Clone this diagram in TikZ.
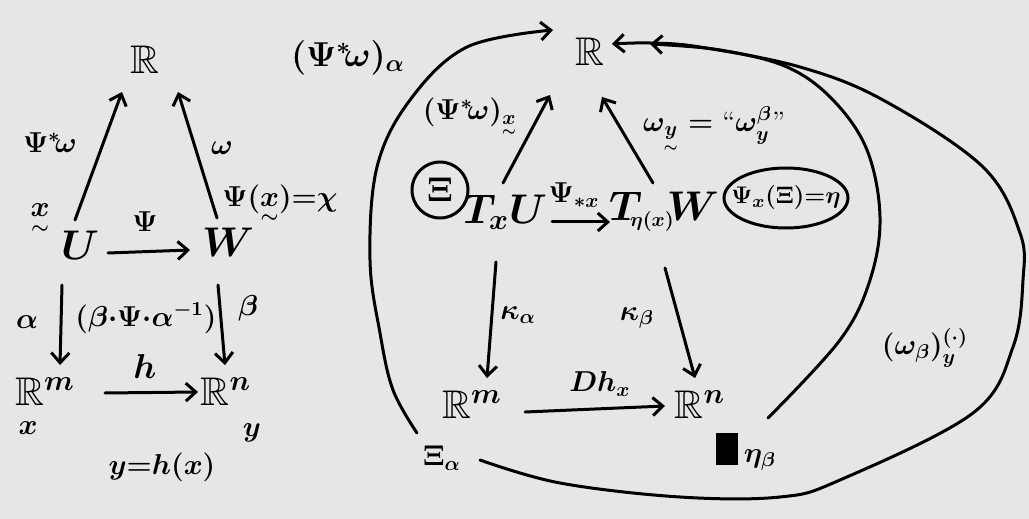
\documentclass[tikz,border=0pt]{standalone}
\usepackage{amsmath,amssymb}
\usetikzlibrary{arrows.meta,shapes.geometric,calc}
\definecolor{paper}{RGB}{230,230,228}
\newcommand{\ulx}{\underset{\sim}{x}}
\newcommand{\uly}{\underset{\sim}{y}}
\begin{document}
\begin{tikzpicture}[x=0.5pt,y=-0.5pt,line width=1.5pt,
  arr/.style={-{Straight Barb[length=5pt,width=9pt]},line cap=round},
  obj/.style={font=\fontsize{20}{22}\selectfont\boldmath,inner sep=1pt},
  lab/.style={font=\fontsize{14}{16}\selectfont\boldmath,inner sep=1pt},
  big/.style={font=\fontsize{18}{20}\selectfont\boldmath,inner sep=1pt}]
\fill[paper] (0,0) rectangle (1029,519);
\useasboundingbox (0,0) rectangle (1029,519);

% ---------- left diagram ----------
\node[obj] (lR)  at (145,60)  {$\mathbb{R}$};
\node[obj] (U)   at (80,245)  {$U$};
\node[obj] (W)   at (228,242) {$W$};
\node[obj] (lRm) at (45,392)  {$\mathbb{R}^m$};
\node[obj] (lRn) at (226,392) {$\mathbb{R}^n$};

\draw[arr] ($(U)+(-5,-25)$) -- ($(lR)+(-23,32)$);
\draw[arr] ($(W)+(-11,-24)$) -- ($(lR)+(33,32)$);
\draw[arr] ($(U)+(28,8)$) -- ($(W)+(-38,8)$);
\draw[arr] ($(U)+(-18,40)$) -- ($(lRm)+(15,-27)$);
\draw[arr] ($(W)+(-10,43)$) -- ($(lRn)+(-1,-27)$);
\draw[arr] ($(lRm)+(60,1)$) -- ($(lRn)+(-28,0)$);

\node[lab] (l1) at (50,143)  {$\Psi^{*}\!\omega$};
\node[lab] (l2) at (222,148) {$\omega$};
\node[lab] (l3) at (40,220)  {$\ulx$};
\node[lab] (l4) at (280,205) {$\Psi(\ulx){=}\chi$};
\node[lab] (l5) at (145,222) {$\Psi$};
\node[lab] (l6) at (27,322)  {$\alpha$};
\node[lab] (l7) at (248,308) {$\beta$};
\node[lab] (l8) at (146,318) {$(\beta{\cdot}\Psi{\cdot}\alpha^{-1})$};
\node[big] (l9) at (145,366) {$h$};
\node[lab] (l10) at (28,428) {$x$};
\node[lab] (l11) at (252,433) {$y$};
\node[lab] (l12) at (162,467) {$y{=}h(x)$};

% ---------- right diagram ----------
\node[obj] (rR)  at (590,52)  {$\mathbb{R}$};
\node[obj] (TU)  at (505,212) {$T_xU$};
\node[obj] (TW)  at (664,212) {$T_{\!\scriptscriptstyle\eta(x)}\!W$};
\node[obj] (rRm) at (472,405) {$\mathbb{R}^m$};
\node[obj] (rRn) at (700,405) {$\mathbb{R}^n$};

\draw[arr] ($(TU)+(-2,-29)$) -- ($(rR)+(-40,43)$);
\draw[arr] ($(TW)+(-11,-29)$) -- ($(rR)+(12,45)$);
\draw[arr] ($(TU)+(47,10)$) -- ($(TW)+(-54,10)$);
\draw[arr] ($(TU)+(-9,50)$) -- ($(rRm)+(15,-27)$);
\draw[arr] ($(TW)+(1,56)$) -- ($(rRn)+(-5,-27)$);
\draw[arr] ($(rRm)+(53,7)$) -- ($(rRn)+(-35,1)$);

\node[big,draw,circle,minimum size=28pt,inner sep=0pt] (xi) at (440,190) {$\Xi$};
\node[lab,font=\fontsize{13}{15}\selectfont\boldmath,draw,ellipse,inner sep=-6pt,minimum height=30pt,minimum width=62pt] (eq) at (786,198) {$\Psi_x(\Xi){=}\eta$};

\node[lab] (r1) at (470,118) {$(\Psi^{*}\!\omega)_{\ulx}$};
\node[lab] (r2) at (714,130) {$\omega_{\uly}=\text{``}\omega^{\beta}_{y}\text{''}$};
\node[lab] (r3) at (574,195) {$\Psi_{*x}$};
\node[lab] (r4) at (518,315) {$\kappa_\alpha$};
\node[lab] (r5) at (637,318) {$\kappa_\beta$};
\node[lab] (r6) at (600,384) {$Dh_x$};
\node[fill=black,minimum width=11pt,minimum height=16pt,inner sep=0pt] (sq) at (727,449) {};
\node[lab] (r7) at (760,460) {$\eta_\beta$};
\node[lab] (r8) at (442,458) {$\Xi_\alpha$};
\node[big] (r9) at (348,58) {$(\Psi^{*}\!\omega)_\alpha$};
\node[lab] (r10) at (925,348) {$(\omega_\beta)_y^{(\cdot)}$};

% ---------- long curves ----------
\draw[arr] plot[smooth,tension=0.6] coordinates {(417,433) (393,390) (380,333) (370,260) (377,167) (410,100) (467,47) (553,30)};
\draw[arr] plot[smooth,tension=0.6] coordinates {(768,418) (840,340) (870,280) (880,217) (867,150) (833,100) (787,67) (720,50) (650,44)};
\draw[arr] plot[smooth,tension=0.6] coordinates {(480,460) (560,483) (680,497) (780,497) (840,480) (973,413) (1013,347) (1023,280) (1020,233) (983,167) (883,100) (800,67) (700,47) (650,43) (612,44)};
\end{tikzpicture}
\end{document}
